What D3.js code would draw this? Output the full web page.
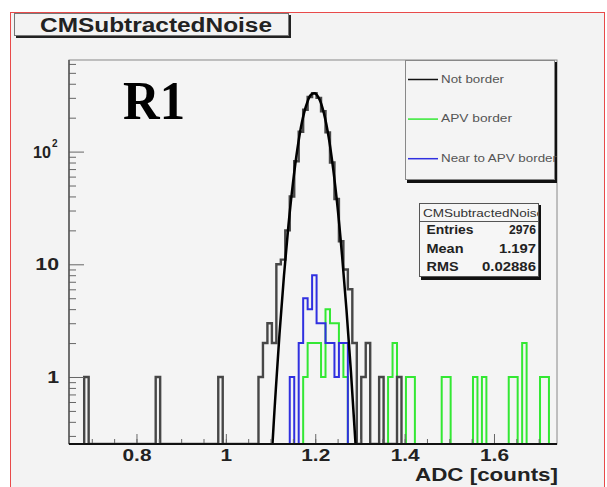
<!DOCTYPE html>
<html>
<head>
<meta charset="utf-8">
<script src="https://cdn.jsdelivr.net/npm/d3@7"></script>
<style>
  body { margin: 0; background: #fff; }
  svg { display: block; font-family: "Liberation Sans", Arial, sans-serif; }
</style>
</head>
<body>
<div class="container"></div>
<script>
var WIDTH = 607;
var HEIGHT = 487;

// histogram contents, [bin centre, entries]
var binWidth = 0.01;
var notBorderBins = [[0.688,1],[0.848,1],[0.988,1],[1.078,1],[1.088,2],[1.098,3],[1.108,2],
  [1.118,10],[1.128,11],[1.138,20],[1.148,40],[1.158,82],[1.168,150],[1.178,235],[1.188,305],
  [1.198,330],[1.208,300],[1.218,228],[1.228,148],[1.238,80],[1.248,38],[1.258,16],[1.268,9],
  [1.278,6],[1.288,2],[1.308,1],[1.318,2],[1.348,1],[1.388,1]];
var apvBorderBins = [[1.178,1],[1.188,2],[1.198,2],[1.208,2],[1.218,1],[1.228,4],[1.238,3],
  [1.248,3],[1.258,2],[1.268,1],[1.368,1],[1.378,2],[1.408,1],[1.418,1],[1.488,1],[1.498,1],
  [1.558,1],[1.578,1],[1.638,1],[1.648,1],[1.668,2],[1.708,1],[1.718,1]];
var nearApvBins = [[1.148,1],[1.168,2],[1.178,5],[1.188,4],[1.198,8],[1.208,3],[1.218,3],
  [1.228,2],[1.238,2],[1.248,1],[1.258,2],[1.268,2]];

// smooth black curve over the peak
var peakCurve = [[1.09,0.05],[1.10,0.14],[1.11,0.6],[1.12,2.4],[1.13,7.9],[1.14,22],[1.15,52],
  [1.16,105],[1.17,180],[1.18,258],[1.19,318],[1.20,328],[1.21,288],[1.22,214],[1.23,135],
  [1.24,71],[1.25,32],[1.26,12],[1.27,3.9],[1.28,1.1],[1.29,0.26],[1.30,0.05]];

var xMajorTicks = [0.8, 1.0, 1.2, 1.4, 1.6];
var yMajorTicks = [1, 10, 100];
var yTickLabels = ['1', '10', '10'];

var legendItems = [
  {label: 'Not border', color: '#111'},
  {label: 'APV border', color: '#33e833'},
  {label: 'Near to APV border', color: '#3030e0'}
];
var statsTitle = 'CMSubtractedNoise';
var statsRows = [['Entries', '2976'], ['Mean', '1.197'], ['RMS', '0.02886']];

var translate = function (x, y) {
  return 'translate(' + x + ',' + y + ')';
};

var setLen = function (sel, w) {
  sel.attr('textLength', w).attr('lengthAdjust', 'spacingAndGlyphs');
};

var stretch = function (sel, k) {
  sel.each(function () {
    var w = this.getComputedTextLength();
    d3.select(this).attr('textLength', w * k).attr('lengthAdjust', 'spacingAndGlyphs');
  });
};

var stepPoints = function (bins) {
  var pts = [];
  var prevHi = null;
  bins.slice().sort(function (a, b) { return a[0] - b[0]; }).forEach(function (b) {
    var lo = b[0] - binWidth / 2, hi = b[0] + binWidth / 2;
    if (prevHi === null || Math.abs(lo - prevHi) > 1e-6) {
      if (prevHi !== null) pts.push([prevHi, 0]);
      pts.push([lo, 0]);
    }
    pts.push([lo, b[1]], [hi, b[1]]);
    prevHi = hi;
  });
  pts.push([prevHi, 0]);
  return pts;
};

var loadChart = function () {
  var L = 69, R = 557, T = 60, B = 444;

  var xScale = d3.scaleLinear().domain([0.649, 1.741]).range([L, R]);
  var yScale = d3.scaleLog().domain([0.2543, 650]).range([B, T]);

  var svg = d3.select('.container').append('svg')
    .attr('width', WIDTH)
    .attr('height', HEIGHT);

  // canvas
  svg.append('rect')
    .attr('x', 10.5).attr('y', 12.5)
    .attr('width', 594).attr('height', 490)
    .attr('fill', '#f3f3f3')
    .attr('stroke', '#e84a4a');

  // title box
  svg.append('rect').attr('x', 16).attr('y', 15).attr('width', 275).attr('height', 23).attr('fill', '#222');
  svg.append('rect').attr('x', 14.5).attr('y', 13.5).attr('width', 274).attr('height', 22)
    .attr('fill', '#f3f3f3').attr('stroke', '#777');
  svg.append('text')
    .attr('x', 40).attr('y', 31.5)
    .attr('font-size', 20).attr('font-weight', 'bold').attr('fill', '#222')
    .text('CMSubtractedNoise')
    .call(setLen, 232);

  // plot frame
  svg.append('rect')
    .attr('x', L).attr('y', T).attr('width', R - L).attr('height', B - T)
    .attr('fill', '#f4f4f4').attr('stroke', '#888');

  svg.append('defs').append('clipPath').attr('id', 'plotClip')
    .append('rect').attr('x', L).attr('y', T).attr('width', R - L).attr('height', B - T);

  var plot = svg.append('g').attr('clip-path', 'url(#plotClip)');

  var histLine = d3.line()
    .x(function (d) { return xScale(d[0]); })
    .y(function (d) { return d[1] > 0 ? yScale(d[1]) : B; });

  plot.append('path').datum(stepPoints(apvBorderBins))
    .attr('d', histLine).attr('fill', 'none')
    .attr('stroke', legendItems[1].color).attr('stroke-width', 2);

  plot.append('path').datum(stepPoints(nearApvBins))
    .attr('d', histLine).attr('fill', 'none')
    .attr('stroke', legendItems[2].color).attr('stroke-width', 2);

  plot.append('path').datum(stepPoints(notBorderBins))
    .attr('d', histLine).attr('fill', 'none')
    .attr('stroke', '#474747').attr('stroke-width', 2.4);

  var curveLine = d3.line()
    .x(function (d) { return xScale(d[0]); })
    .y(function (d) { return yScale(d[1]); })
    .curve(d3.curveCatmullRom);

  plot.append('path').datum(peakCurve)
    .attr('d', curveLine).attr('fill', 'none')
    .attr('stroke', '#000').attr('stroke-width', 2.5);

  // x axis ticks
  var xMinor = d3.range(0.7, 1.74, 0.05);
  svg.append('g')
    .attr('transform', translate(0, B))
    .call(d3.axisBottom(xScale).tickValues(xMinor).tickSize(-5).tickSizeOuter(0).tickFormat(''))
    .call(function (g) { g.select('.domain').remove(); })
    .selectAll('line').attr('stroke', '#666');

  var xAxis = svg.append('g')
    .attr('transform', translate(0, B))
    .call(d3.axisBottom(xScale).tickValues(xMajorTicks).tickSize(-10).tickSizeOuter(0)
      .tickPadding(6).tickFormat(d3.format('~g')));
  xAxis.select('.domain').remove();
  xAxis.selectAll('line').attr('stroke', '#666');
  xAxis.selectAll('text')
    .attr('font-size', 16).attr('font-weight', 'bold').attr('fill', '#222')
    .style('font-family', '"Liberation Sans", Arial, sans-serif')
    .call(stretch, 1.3);

  // y axis ticks
  var yMinor = [];
  [0.1, 1, 10, 100].forEach(function (dec) {
    for (var m = 2; m <= 9; m++) {
      var v = dec * m;
      if (v > 0.2543 && v < 650) yMinor.push(v);
    }
  });
  svg.append('g')
    .attr('transform', translate(L, 0))
    .call(d3.axisRight(yScale).tickValues(yMinor).tickSize(7).tickSizeOuter(0).tickFormat(''))
    .call(function (g) { g.select('.domain').remove(); })
    .selectAll('line').attr('stroke', '#666');
  svg.append('g')
    .attr('transform', translate(L, 0))
    .call(d3.axisRight(yScale).tickValues(yMajorTicks).tickSize(15).tickSizeOuter(0).tickFormat(''))
    .call(function (g) { g.select('.domain').remove(); })
    .selectAll('line').attr('stroke', '#666');

  var yLab = svg.append('g').selectAll('text')
    .data(yMajorTicks)
    .enter()
    .append('text')
    .attr('x', 59)
    .attr('y', function (d) { return yScale(d) + 6; })
    .attr('text-anchor', 'end')
    .attr('font-size', 17).attr('font-weight', 'bold').attr('fill', '#222');
  yLab.each(function (d, i) {
    var t = d3.select(this);
    if (d === 100) {
      t.attr('x', 51).attr('font-size', 17).text(yTickLabels[i]).call(setLen, 18);
      svg.append('text')
        .attr('x', 52).attr('y', yScale(d) - 5)
        .attr('font-size', 10).attr('font-weight', 'bold').attr('fill', '#222')
        .text('2');
    } else {
      t.text(yTickLabels[i]).call(stretch, 1.25);
    }
  });

  // axis lines
  svg.append('line').attr('x1', L).attr('x2', L).attr('y1', T).attr('y2', B)
    .attr('stroke', '#555').attr('stroke-width', 1.5);
  svg.append('line').attr('x1', L).attr('x2', R).attr('y1', B).attr('y2', B)
    .attr('stroke', '#111').attr('stroke-width', 2);

  svg.append('text')
    .attr('x', 558).attr('y', 481)
    .attr('text-anchor', 'end')
    .attr('font-size', 18).attr('font-weight', 'bold').attr('fill', '#222')
    .text('ADC [counts]')
    .call(setLen, 143);

  // R1 label
  svg.append('text')
    .attr('x', 123).attr('y', 119)
    .style('font-family', '"Liberation Serif", "Times New Roman", serif')
    .attr('font-size', 54).attr('font-weight', 'bold').attr('fill', '#000')
    .text('R1')
    .call(setLen, 62);

  // legend
  var lg = svg.append('g').attr('transform', translate(405, 60));
  lg.append('rect').attr('x', 2).attr('y', 2).attr('width', 150).attr('height', 121).attr('fill', '#111');
  lg.append('rect').attr('x', 0.5).attr('y', 0.5).attr('width', 149).attr('height', 119)
    .attr('fill', '#f4f4f4').attr('stroke', '#888');
  var lgRow = lg.selectAll('g.row').data(legendItems).enter().append('g')
    .attr('class', 'row')
    .attr('transform', function (d, i) { return translate(0, 19.5 + i * 39.6); });
  lgRow.append('line').attr('x1', 3).attr('x2', 33).attr('y1', 0).attr('y2', 0)
    .attr('stroke', function (d) { return d.color; }).attr('stroke-width', 1.5);
  lgRow.append('text').attr('x', 36).attr('y', 3)
    .attr('font-size', 11.5).attr('fill', '#555')
    .text(function (d) { return d.label; })
    .each(function (d, i) { d3.select(this).call(setLen, [63, 71, 116][i]); });

  // stats box
  var st = svg.append('g').attr('transform', translate(419, 203));
  st.append('rect').attr('x', 2).attr('y', 2).attr('width', 120).attr('height', 75).attr('fill', '#111');
  st.append('rect').attr('x', 0.5).attr('y', 0.5).attr('width', 119).attr('height', 73)
    .attr('fill', '#f6f6f6').attr('stroke', '#555');
  st.append('clipPath').attr('id', 'statClip')
    .append('rect').attr('x', 0).attr('y', 0).attr('width', 119).attr('height', 20);
  st.append('text').attr('x', 4).attr('y', 13.5)
    .attr('clip-path', 'url(#statClip)')
    .attr('font-size', 11).attr('fill', '#333')
    .text(statsTitle)
    .call(setLen, 121);
  st.append('line').attr('x1', 0).attr('x2', 120).attr('y1', 18.5).attr('y2', 18.5)
    .attr('stroke', '#555');
  var stRow = st.selectAll('g.srow').data(statsRows).enter().append('g')
    .attr('class', 'srow')
    .attr('transform', function (d, i) { return translate(0, 31 + i * 18.7); });
  stRow.append('text').attr('x', 7.5)
    .attr('font-size', 12).attr('font-weight', 'bold').attr('fill', '#222')
    .text(function (d) { return d[0]; })
    .each(function (d, i) { d3.select(this).call(setLen, [47, 37, 32][i]); });
  stRow.append('text').attr('x', 117).attr('text-anchor', 'end')
    .attr('font-size', 12).attr('font-weight', 'bold').attr('fill', '#222')
    .text(function (d) { return d[1]; })
    .each(function (d, i) { d3.select(this).call(setLen, [27, 37, 54][i]); });
};

window.onload = loadChart;
</script>
</body>
</html>
